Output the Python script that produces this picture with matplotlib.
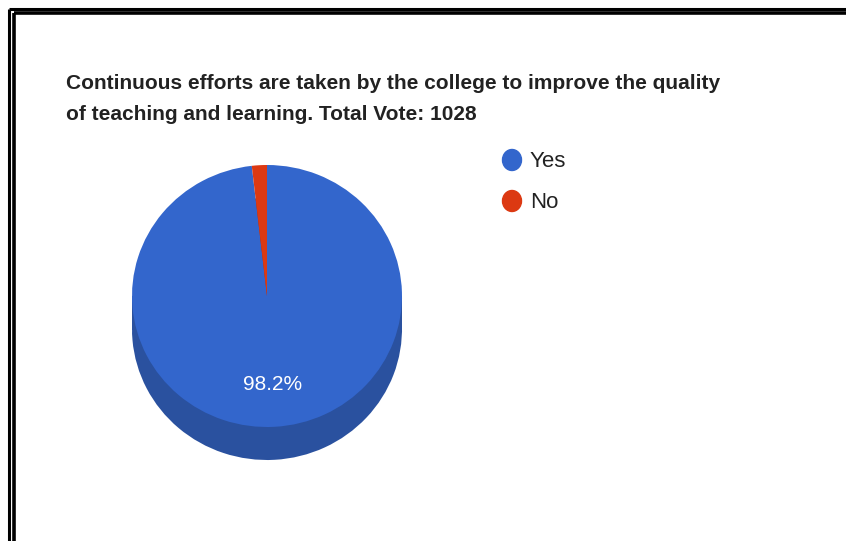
import matplotlib
matplotlib.use('Agg')
from matplotlib import pyplot as plt
from matplotlib.patches import Ellipse, Rectangle

title_lines = ['Continuous efforts are taken by the college to improve the quality',
               'of teaching and learning. Total Vote: 1028']
labels = ['Yes', 'No']
values = [98.2, 1.8]
colors = ['#3366cc', '#dc3912']
side_colors = ['#2a519f', '#a82b0e']

W, H = 846, 541
fig = plt.figure(figsize=(W / 100, H / 100), dpi=100)
fig.patch.set_facecolor('white')

font = ['Liberation Sans', 'DejaVu Sans']

# page axes in pixel coords
ax0 = fig.add_axes([0, 0, 1, 1])
ax0.set_xlim(0, W)
ax0.set_ylim(H, 0)
ax0.axis('off')

# double frame line (left and top)
ax0.plot([9, 9], [H, 9], color='black', lw=2.2, solid_capstyle='butt')
ax0.plot([9, W], [9, 9], color='black', lw=2.2, solid_capstyle='butt')
ax0.plot([13.5, 13.5], [H, 13], color='black', lw=2.6, solid_capstyle='butt')
ax0.plot([13.5, W], [13, 13], color='black', lw=2.6, solid_capstyle='butt')

for i, line in enumerate(title_lines):
    ax0.text(66, 89 + i * 31, line, fontsize=15, fontweight='bold', family=font,
             color='#222222', va='baseline', ha='left')

# legend
for i, (lab, col) in enumerate(zip(labels, colors)):
    y = 160 + i * 41
    ax0.add_patch(Ellipse((512, y), 19, 21, color=col))
    ax0.text(530, y + 7, lab, fontsize=16, family=font, color='#222222',
             va='baseline', ha='left')

# 3d pie: top face ellipse plus dark side
cx0, cx1 = 132, 402
top, bottom = 165, 460
depth = 33
ry_px = (bottom - depth - top) / 2
d = depth / ry_px
axp = fig.add_axes([cx0 / W, 1 - bottom / H, (cx1 - cx0) / W, (bottom - top) / H])

axp.pie(values, colors=side_colors, startangle=90, counterclock=False,
        center=(0, -d), radius=1, frame=True)
axp.add_patch(Rectangle((-1, -d), 2, d, color=side_colors[0], zorder=1))
wedges, texts, autotexts = axp.pie(values, colors=colors, startangle=90, counterclock=False,
                                   radius=1, frame=True, autopct=lambda p: '%.1f%%' % p if p > 5 else '',
                                   pctdistance=0.68,
                                   textprops=dict(color='white', fontsize=15, family=font))
for w in wedges:
    w.set_zorder(3)
for t in autotexts:
    t.set_zorder(4)
axp.set_aspect('auto')
axp.set_xlim(-1, 1)
axp.set_ylim(-1 - d, 1)
axp.axis('off')

fig.savefig('out.png', dpi=100, facecolor='white')
